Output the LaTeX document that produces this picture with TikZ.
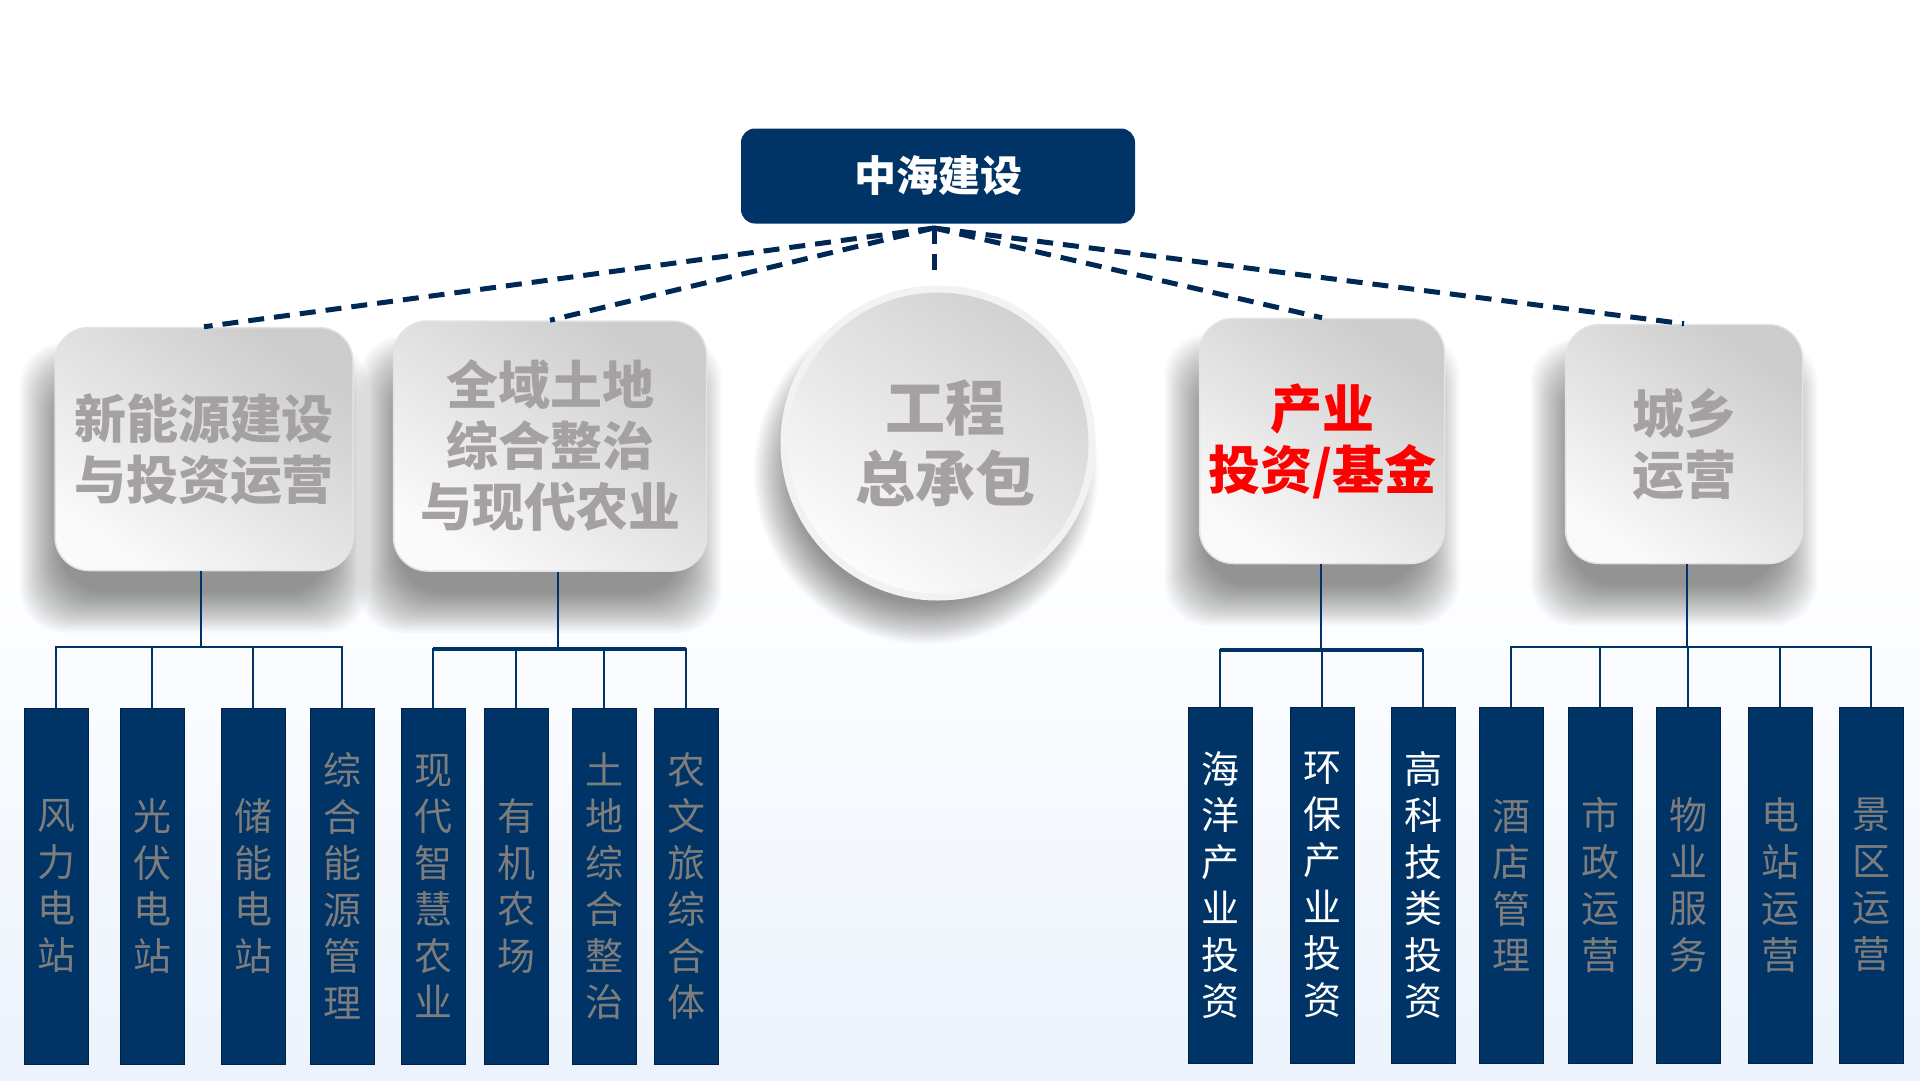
\documentclass[tikz,border=0pt]{standalone}
\usepackage{fontspec}
\newfontfamily\cjk{Noto Sans CJK SC}
\usetikzlibrary{calc}
\definecolor{navy}{RGB}{0,51,102}
\definecolor{boxgray}{RGB}{166,161,161}
\definecolor{leafgray}{RGB}{125,125,125}
\definecolor{bgblue}{RGB}{236,243,252}
\definecolor{dashnavy}{RGB}{0,40,85}
\newcommand\mysoftshadow[4]{%
  \foreach \s in {0,2,...,40}{%
    \fill[black,opacity=0.024,rounded corners=44pt]
      ({#1-#3/2+5-\s},{#2-#4/2+55-\s}) rectangle ({#1+#3/2-25+\s},{#2+#4/2+22+\s});
  }}
\begin{document}
\begin{tikzpicture}[x=1pt,y=-1pt,
  bigbox/.style={rounded corners=34pt, top color=gray!40, bottom color=gray!4, shading angle=-35,
    draw=gray!22, line width=1.5pt, text=boxgray, align=center, inner sep=0pt,
    font=\cjk\bfseries\fontsize{52}{61}\selectfont},
  leaf/.style={fill=navy, draw=navy!70!black, line width=1pt, minimum width=64pt, minimum height=356pt,
    inner sep=0pt, align=center, text=leafgray, font=\cjk\fontsize{38}{46.5}\selectfont},
  leafw/.style={leaf, text=white},
  tree/.style={draw=navy, line width=2.5pt},
  dashline/.style={draw=dashnavy, line width=5pt, dash pattern=on 16pt off 10pt}]
\useasboundingbox (0,0) rectangle (1920,1080);
\fill[top color=white, bottom color=bgblue, middle color=white] (0,0) rectangle (1920,1080);

% shadows
\mysoftshadow{204}{449}{298}{243}
\mysoftshadow{550}{446}{313}{250}
\mysoftshadow{1322}{441}{245}{245}
\mysoftshadow{1684}{444}{237}{239}
\foreach \s in {0,2,...,40}{\fill[black,opacity=0.024] (926,472) circle ({132+\s});}

% top node
\node[fill=navy, rounded corners=14pt, minimum width=394pt, minimum height=95pt, text=white,
  font=\cjk\bfseries\fontsize{42}{50}\selectfont] (top) at (938,176) {中海建设};

% level-2 boxes
\node[bigbox, minimum width=298pt, minimum height=243pt] (b1) at (204,449) {新能源建设\\与投资运营};
\node[bigbox, minimum width=313pt, minimum height=250pt] (b2) at (550,446) {全域土地\\综合整治\\与现代农业};
\node[circle, minimum size=308pt, top color=gray!36, bottom color=gray!2, shading angle=-35,
  draw=white!90!gray, line width=7pt, text=boxgray, align=center, inner sep=0pt,
  font=\cjk\bfseries\fontsize{60}{71}\selectfont] (c) at (938,443) {\hspace*{14pt}工程\\\hspace*{14pt}总承包};
\node[bigbox, minimum width=245pt, minimum height=245pt, text=red] (b4) at (1322,441) {产业\\投资/基金};
\node[bigbox, minimum width=237pt, minimum height=239pt] (b5) at (1684,444) {城乡\\运营};

% dashed connectors
\coordinate (hub) at (934,228);
\coordinate (stub) at (934,270);
\draw[dashline] (hub) -- (b1.north);
\draw[dashline] (hub) -- (b2.north);
\draw[dashline] (hub) -- (stub);
\draw[dashline] (hub) -- (b4.north);
\draw[dashline] (hub) -- (b5.north);

% leaves
\node[leaf] (l1) at (56,886) {风\\力\\电\\站};
\node[leaf] (l2) at (152,886) {光\\伏\\电\\站};
\node[leaf] (l3) at (253,886) {储\\能\\电\\站};
\node[leaf] (l4) at (342,886) {综\\合\\能\\源\\管\\理};
\node[leaf] (l5) at (433,886) {现\\代\\智\\慧\\农\\业};
\node[leaf] (l6) at (516,886) {有\\机\\农\\场};
\node[leaf] (l7) at (604,886) {土\\地\\综\\合\\整\\治};
\node[leaf] (l8) at (686,886) {农\\文\\旅\\综\\合\\体};

\node[leafw] (r1) at (1220,885) {海\\洋\\产\\业\\投\\资};
\node[leafw] (r2) at (1322,885) {环\\保\\产\\业\\投\\资};
\node[leafw] (r3) at (1423,885) {高\\科\\技\\类\\投\\资};
\node[leaf] (r4) at (1511,885) {酒\\店\\管\\理};
\node[leaf] (r5) at (1600,885) {市\\政\\运\\营};
\node[leaf] (r6) at (1688,885) {物\\业\\服\\务};
\node[leaf] (r7) at (1780,885) {电\\站\\运\\营};
\node[leaf] (r8) at (1871,885) {景\\区\\运\\营};

% tree connectors
\coordinate (j1) at (201,647);
\coordinate (j2) at (558,649);
\coordinate (j4) at (1321,650);
\coordinate (j5) at (1687,647);
\draw[tree] (b1.south -| j1) -- (j1);
\draw[tree] (b2.south -| j2) -- (j2);
\draw[tree] (b4.south -| j4) -- (j4);
\draw[tree] (b5.south -| j5) -- (j5);
\foreach \l in {l1,l2,l3,l4} \draw[tree] (j1) -| (\l.north);
\foreach \l in {l5,l6,l7,l8} \draw[tree] (j2) -| (\l.north);
\foreach \l in {r1,r2,r3} \draw[tree] (j4) -| (\l.north);
\foreach \l in {r4,r5,r6,r7,r8} \draw[tree] (j5) -| (\l.north);
\draw[tree, line width=4.5pt] (l5.north |- j2) -- (l8.north |- j2);
\draw[tree, line width=4.5pt] (r1.north |- j4) -- (r3.north |- j4);
\end{tikzpicture}
\end{document}
